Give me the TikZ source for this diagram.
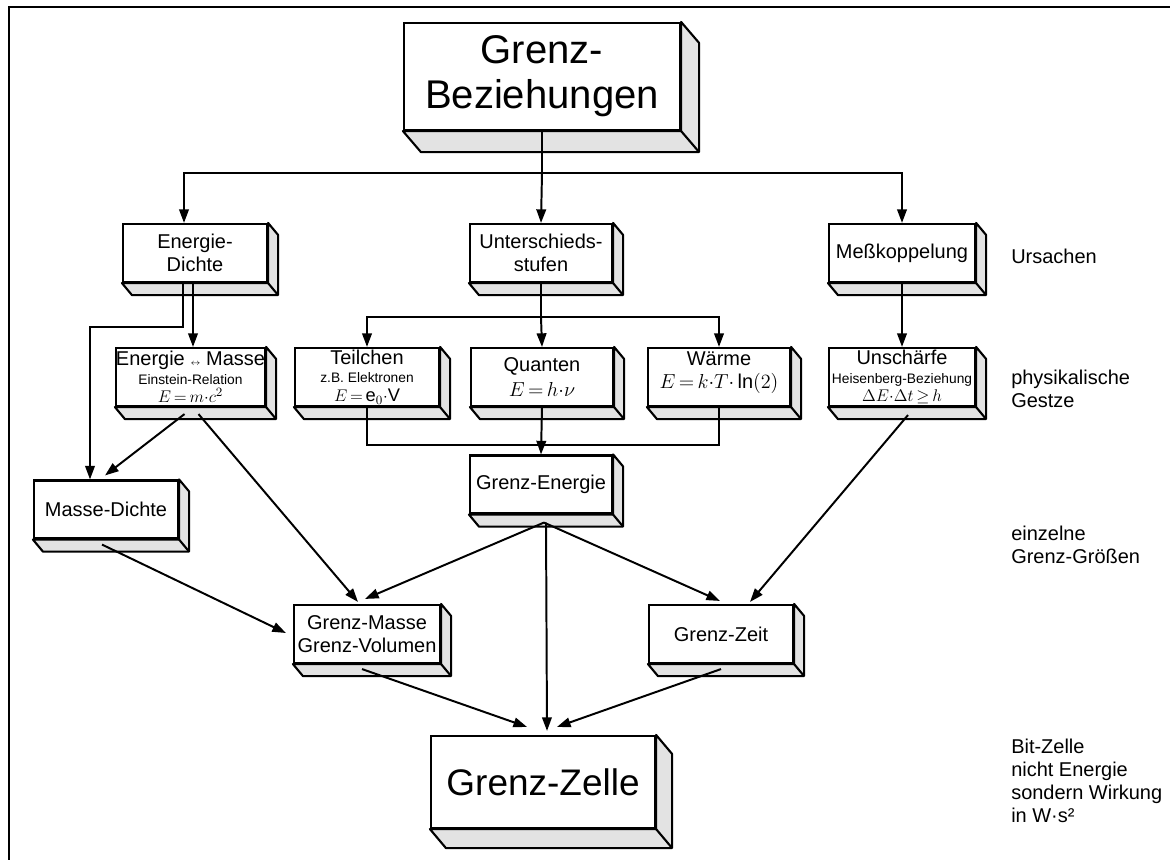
\documentclass[tikz,border=0pt]{standalone}
\usepackage{fontspec}
\setmainfont{Liberation Sans}
\usetikzlibrary{arrows.meta,calc}

\begin{document}
\begin{tikzpicture}[x=0.025cm,y=-0.025cm,
  kiste/.style={draw,line width=1.5pt,fill=white,inner sep=0pt,align=center,
    minimum width=3.6cm,minimum height=1.45cm,font=\fontsize{14.2}{16.4}\selectfont},
  seite/.style={draw,line width=1.5pt,fill=black!11,line join=round},
  linie/.style={line width=1.4pt},
  pfeil/.style={linie,-{Triangle[length=3.4mm,width=2.4mm]}},
  ebene/.style={anchor=west,align=left,inner sep=0pt,font=\fontsize{14.2}{16.4}\selectfont}]
\def\klein{\fontsize{9.8}{10}\selectfont}
\def\formel{\fontsize{13}{13}\selectfont}
\def\dreizeilig{\fontsize{14.2}{13.2}\selectfont}
\useasboundingbox (0,0) rectangle (1170,860);
\draw[line width=2pt] (1170,7) -- (9,7) -- (9,860);

% Kisten
\node[kiste,minimum width=6.9cm,minimum height=2.675cm,font=\fontsize{28.5}{32}\selectfont] (top) at (542,76.5) {Grenz-\\Beziehungen};
\node[kiste] (edichte) at (195,253) {Energie-\\Dichte};
\node[kiste,minimum width=3.55cm] (unterschied) at (541,253) {Unterschieds-\\stufen};
\node[kiste,minimum width=3.65cm] (messk) at (902,253) {Meßkoppelung};
\node[kiste,font=\dreizeilig] (emasse) at (190.5,377) {Energie {\fontsize{6}{6}\selectfont$\leftrightarrow$} Masse\\{\klein Einstein-Relation}\\{\formel$E\,{=}\,m{\cdot}c^2$}};
\node[kiste,font=\dreizeilig] (teilchen) at (367,377) {Teilchen\\{\klein z.B. Elektronen}\\{\formel$E\,{=}\,\mathrm{e}_0{\cdot}\mathrm{V}$}};
\node[kiste,minimum width=3.55cm] (quanten) at (542,377) {Quanten\\[2pt]$E\,{=}\,h{\cdot}\nu$};
\node[kiste,minimum width=3.55cm] (waerme) at (719,377) {Wärme\\$E\,{=}\,k{\cdot}T{\cdot}\ln(2)$\\[-6pt]\mbox{}};
\node[kiste,minimum width=3.65cm,font=\dreizeilig] (unschaerfe) at (902,377) {Unschärfe\\{\klein Heisenberg-Beziehung}\\{\formel$\Delta E{\cdot}\Delta t\,{\geq}\,h$}};
\node[kiste] (mdichte) at (106,509.5) {Masse-Dichte};
\node[kiste,minimum width=3.55cm] (genergie) at (541,484.5) {Grenz-Energie};
\node[kiste,minimum width=3.65cm] (gmasse) at (367,634) {Grenz-Masse\\Grenz-Volumen};
\node[kiste] (gzeit) at (721,634) {Grenz-Zeit};
\node[kiste,minimum width=5.6cm,minimum height=2.3cm,font=\fontsize{26.3}{30}\selectfont] (gzelle) at (543,782) {Grenz-Zelle};

% Seiten- und Bodenflaechen
\foreach \n/\dx/\dy in {top/18/21,gzelle/16/19,edichte/10/12,unterschied/10/12,messk/10/12,
  emasse/10/12,teilchen/10/12,quanten/10/12,waerme/10/12,unschaerfe/10/12,
  mdichte/10/12,genergie/10/12,gmasse/10/12,gzeit/10/12}
{
  \draw[seite] (\n.north east) -- ++(\dx,\dy) -- ($(\n.south east)+(\dx,\dy)$)
    -- ($(\n.south west)+(\dx,\dy)$) -- (\n.south west) -- (\n.south east) -- cycle;
  \draw[line width=1.5pt] (\n.south east) -- ++(\dx,\dy);
}

% Ebenen
\node[ebene] (ursachen) at (1011,256) {Ursachen};
\node[ebene] (gesetze) at (1011,388.5) {physikalische\\Gestze};
\node[ebene] (groessen) at (1011,544.5) {einzelne\\Grenz-Größen};
\node[ebene] (bitzelle) at (1011,781) {Bit-Zelle\\nicht Energie\\sondern Wirkung\\in W·s²};

% Verbindungen
\draw[linie] (top.south) -- ++(0,42) coordinate (v1);
\draw[pfeil] (v1) -| ($(edichte.north)+(-11,0)$);
\draw[pfeil] (v1) -- (unterschied.north);
\draw[pfeil] (v1) -| (messk.north);
\draw[pfeil] ($(edichte.south)+(-12,0)$) -- ++(0,44) -| ($(mdichte.north)+(-16,0)$);
\draw[pfeil] ($(edichte.south)+(-2,0)$) -- ($(emasse.north)+(2.5,0)$);
\draw[linie] (unterschied.south) -- ++(0,34) coordinate (v2);
\draw[pfeil] (v2) -| (teilchen.north);
\draw[pfeil] (v2) -- (quanten.north);
\draw[pfeil] (v2) -| (waerme.north);
\coordinate (v3) at ($(quanten.south)+(0,38)$);
\draw[linie] (teilchen.south) |- (v3) -| (waerme.south);
\draw[pfeil] (quanten.south) -- (genergie.north);
\draw[pfeil] (messk.south) -- (unschaerfe.north);
\draw[pfeil] ($(emasse.south)+(-6,7)$) -- ($(mdichte.north)+(-1,-4)$);
\draw[pfeil] ($(emasse.south)+(8,7)$) -- ($(gmasse.north)+(-9,-2)$);
\draw[pfeil] ($(unschaerfe.south)+(6,8)$) -- ($(gzeit.north)+(29,-2)$);
\draw[pfeil] ($(genergie.south)+(3,8)$) -- ($(gmasse.north)+(-2,-5)$);
\draw[pfeil] ($(genergie.south)+(3,8)$) -- ($(gzeit.north)+(-1,-3)$);
\draw[pfeil] ($(genergie.south)+(5,8)$) -- ($(gzelle.north)+(4,-4)$);
\draw[pfeil] ($(mdichte.south)+(-4,5)$) -- ($(gmasse.west)+(-7,-1)$);
\draw[pfeil] ($(gmasse.south)+(-5,5)$) -- ($(gzelle.north)+(-16,-8)$);
\draw[pfeil] ($(gzeit.south)+(0,5)$) -- ($(gzelle.north)+(14,-8)$);
\end{tikzpicture}
\end{document}
